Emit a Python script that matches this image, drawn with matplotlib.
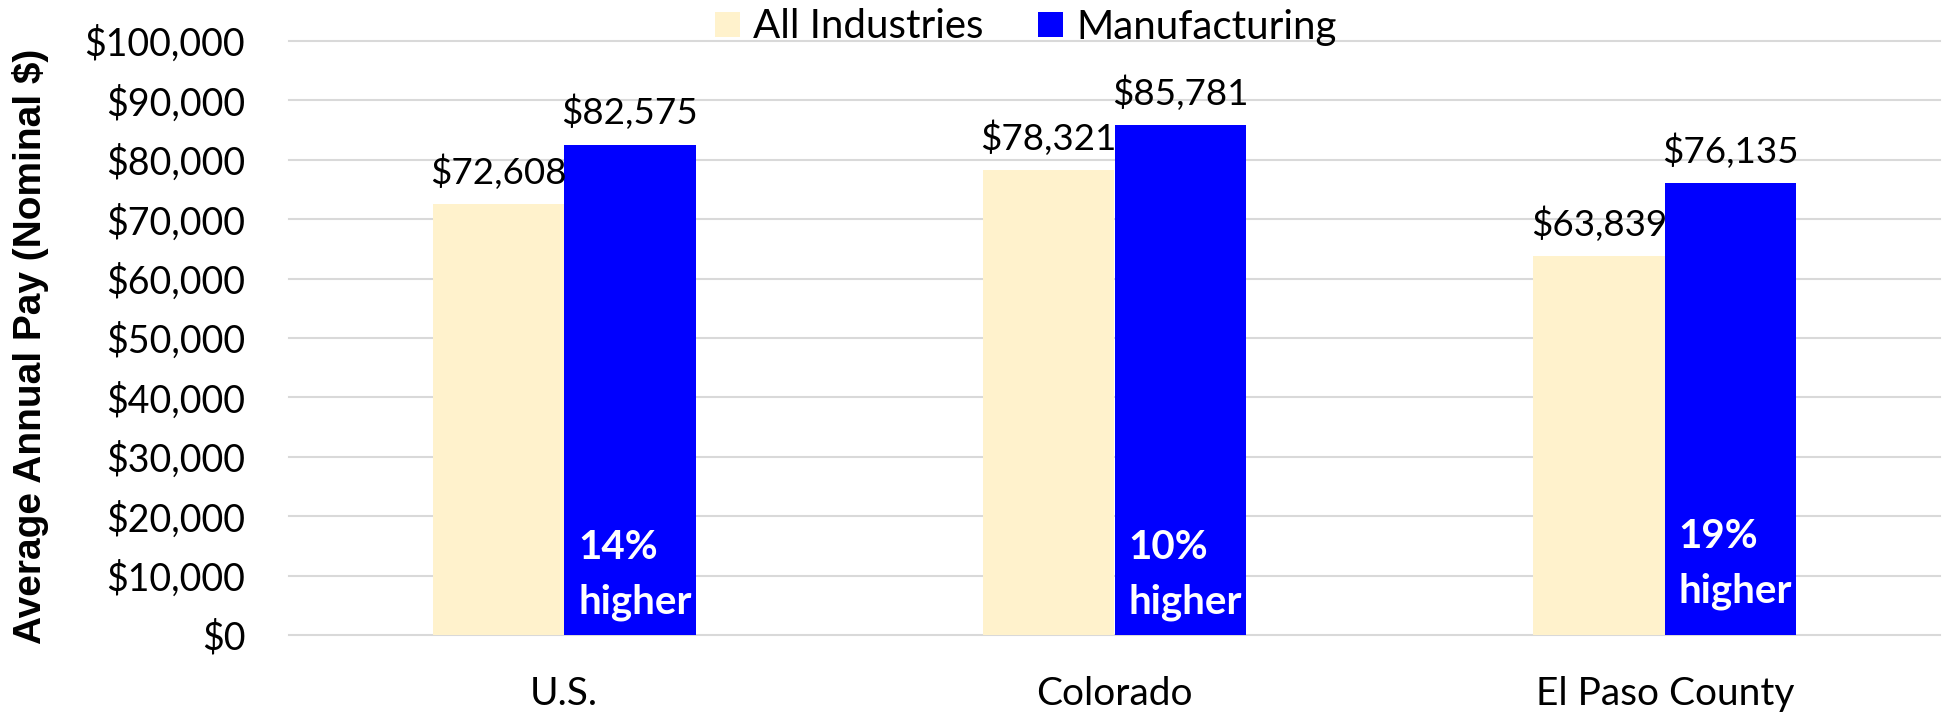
import matplotlib
matplotlib.use("Agg")
import matplotlib.pyplot as plt
from matplotlib.ticker import FuncFormatter
import numpy as np

# Average annual pay, all industries vs. manufacturing
categories = ["U.S.", "Colorado", "El Paso County"]
all_industries = [72608, 78321, 63839]
manufacturing = [82575, 85781, 76135]
pct_higher = ["14%", "10%", "19%"]
series_names = ["All Industries", "Manufacturing"]
y_ticks = [0, 10000, 20000, 30000, 40000, 50000, 60000, 70000, 80000, 90000, 100000]

plt.rcParams["font.family"] = ["Lato", "DejaVu Sans"]

fig = plt.figure(figsize=(19.46, 7.13), dpi=100)
ax = fig.add_axes([289 / 1946, 1 - 635 / 713, 1651 / 1946, 594 / 713])

x = np.arange(len(categories))
w = 0.239
bars_all = ax.bar(x - w, all_industries, width=w, align="edge",
                  color="#FFF2CC", linewidth=0, zorder=2)
bars_mfg = ax.bar(x, manufacturing, width=w, align="edge",
                  color="#0000FF", linewidth=0, zorder=2)

ax.set_xlim(-0.5, len(categories) - 0.5)
ax.set_ylim(0, 100000)
ax.set_yticks(y_ticks)
ax.yaxis.set_major_formatter(FuncFormatter(lambda v, p: f"${v:,.0f}"))
ax.set_xticks(x, categories)

ax.grid(axis="y", color="#D9D9D9", linewidth=1.5)
ax.set_axisbelow(True)
for gl in ax.get_ygridlines():
    gl.set_clip_on(False)
for s in ax.spines.values():
    s.set_visible(False)
ax.tick_params(axis="y", length=0, pad=31.5, labelsize=27, labelcolor="black")
ax.tick_params(axis="x", length=0, pad=29.5, labelsize=28, labelcolor="black")

# value labels above each bar
for bars, vals in ((bars_all, all_industries), (bars_mfg, manufacturing)):
    for rect, val in zip(bars, vals):
        ax.annotate(f"${val:,}", xy=(rect.get_x() + rect.get_width() / 2, val),
                    xytext=(0, 14.5), textcoords="offset points",
                    ha="center", va="baseline", fontsize=26.5, color="black",
                    parse_math=False)

# "% higher" notes inside the manufacturing bars
note_base = [12800, 12800, 14650]
for rect, pct, yb in zip(bars_mfg, pct_higher, note_base):
    left = rect.get_x()
    ax.annotate(pct, xy=(left, yb), xytext=(10, 0), textcoords="offset points",
                ha="left", va="baseline", fontsize=29, fontweight="bold",
                color="white", zorder=3)
    ax.annotate("higher", xy=(left, yb), xytext=(10, -39), textcoords="offset points",
                ha="left", va="baseline", fontsize=29, fontweight="bold",
                color="white", zorder=3)

fig.text(31 / 1946, 1 - 346 / 713, "Average Annual Pay (Nominal $)",
         rotation=90, ha="center", va="center", fontsize=28, fontweight="bold",
         family=["Liberation Sans", "DejaVu Sans"], color="black", parse_math=False)

ax.legend(handles=[bars_all, bars_mfg], labels=series_names, ncol=2,
          loc="center left", bbox_to_anchor=(715 / 1946, 1 - 27 / 713),
          bbox_transform=fig.transFigure, frameon=False, fontsize=29,
          borderpad=0, borderaxespad=0, handlelength=0.62, handleheight=0.6,
          handletextpad=0.32, columnspacing=1.36)

fig.savefig("out.png", dpi=100)
